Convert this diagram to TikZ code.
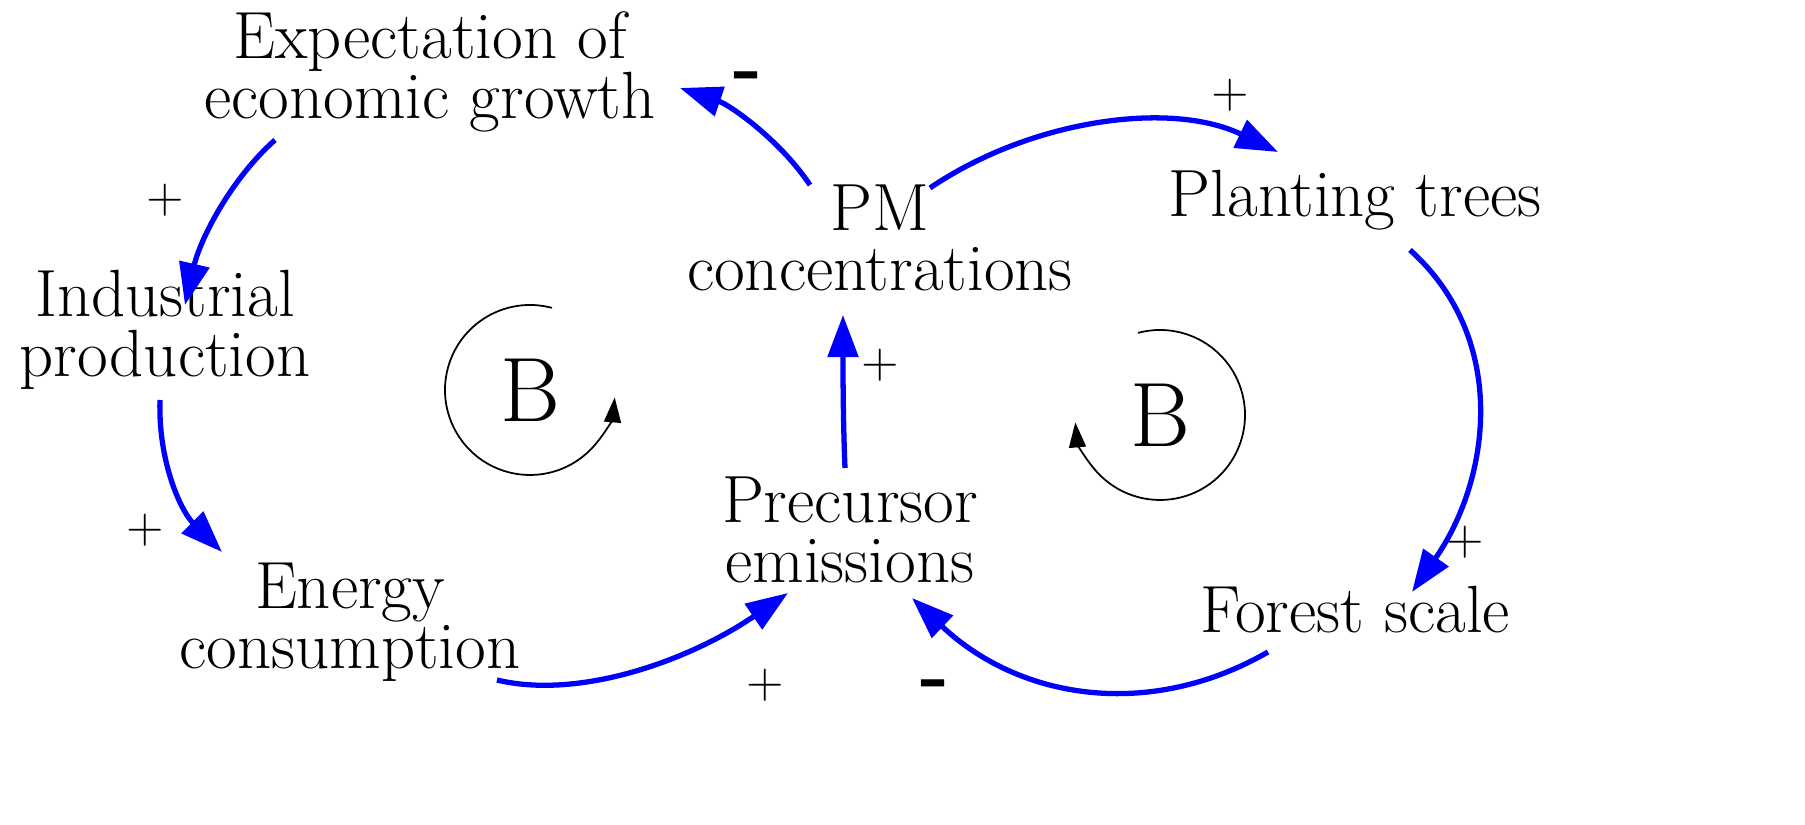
\documentclass[tikz,border=0pt]{standalone}
\usetikzlibrary{arrows.meta}
\begin{document}
\begin{tikzpicture}[x=0.01cm,y=-0.01cm,
  lbl/.style={font=\fontsize{19}{17}\selectfont,align=center,inner sep=0pt},
  sgn/.style={font=\fontsize{14}{15}\selectfont,inner sep=0pt},
  lnk/.style={draw=blue,line width=1.5pt,-{Triangle[length=0.42cm,width=0.3cm]}},
  loopc/.style={draw=black,line width=0.5pt,-{Triangle[length=0.25cm,width=0.17cm]}}]
\useasboundingbox (0,0) rectangle (1805,825);
\node[lbl] (exp) at (430,72) {Expectation of\\economic growth};
\node[lbl] (pm) at (880,238) {PM\\concentrations};
\node[lbl] (plant) at (1355,200) {Planting trees};
\node[lbl] (ind) at (165,330) {Industrial\\production};
\node[lbl] (en) at (350,622) {Energy\\consumption};
\node[lbl] (pre) at (850,530) {Precursor\\emissions};
\node[lbl] (for) at (1355,610) {Forest scale};
\node[font=\fontsize{26}{28}\selectfont] (b1) at (530,390) {B};
\node[font=\fontsize{26}{28}\selectfont] (b2) at (1160,415) {B};

\coordinate (a1s) at (810,185); \coordinate (a1e) at (680,88);
\coordinate (a2s) at (930,188); \coordinate (a2e) at (1278,152);
\coordinate (a3s) at (1410,250); \coordinate (a3e) at (1412,592);
\coordinate (a4s) at (1268,652); \coordinate (a4e) at (912,598);
\coordinate (a5s) at (497,680); \coordinate (a5e) at (788,593);
\coordinate (a6s) at (845,468); \coordinate (a6e) at (843,315);
\coordinate (a7s) at (275,140); \coordinate (a7e) at (185,305);
\coordinate (a8s) at (160,400); \coordinate (a8e) at (222,552);

\draw[lnk] (a1s) .. controls (780,140) and (730,105) .. (a1e);
\draw[lnk] (a2s) .. controls (1030,120) and (1170,100) .. (a2e);
\draw[lnk] (a3s) .. controls (1510,340) and (1490,480) .. (a3e);
\draw[lnk] (a4s) .. controls (1150,720) and (1020,700) .. (a4e);
\draw[lnk] (a5s) .. controls (580,700) and (690,660) .. (a5e);
\draw[lnk] (a6s) .. controls (843,420) and (843,370) .. (a6e);
\draw[lnk] (a7s) .. controls (230,180) and (200,240) .. (a7e);
\draw[lnk] (a8s) .. controls (158,460) and (180,510) .. (a8e);

\draw[loopc] (b1) ++(-75:85) arc[start angle=-75,end angle=-355,radius=85];
\draw[loopc] (b2) ++(-105:85) arc[start angle=-105,end angle=175,radius=85];

\node[sgn,font=\fontsize{22}{24}\bfseries] (m1) at (748,82) {-};
\node[sgn] (p1) at (1230,95) {+};
\node[sgn] (p2) at (1465,542) {+};
\node[sgn,font=\fontsize{22}{24}\bfseries] (m2) at (935,690) {-};
\node[sgn] (p3) at (765,685) {+};
\node[sgn] (p4) at (880,365) {+};
\node[sgn] (p5) at (165,200) {+};
\node[sgn] (p6) at (145,530) {+};
\end{tikzpicture}
\end{document}
